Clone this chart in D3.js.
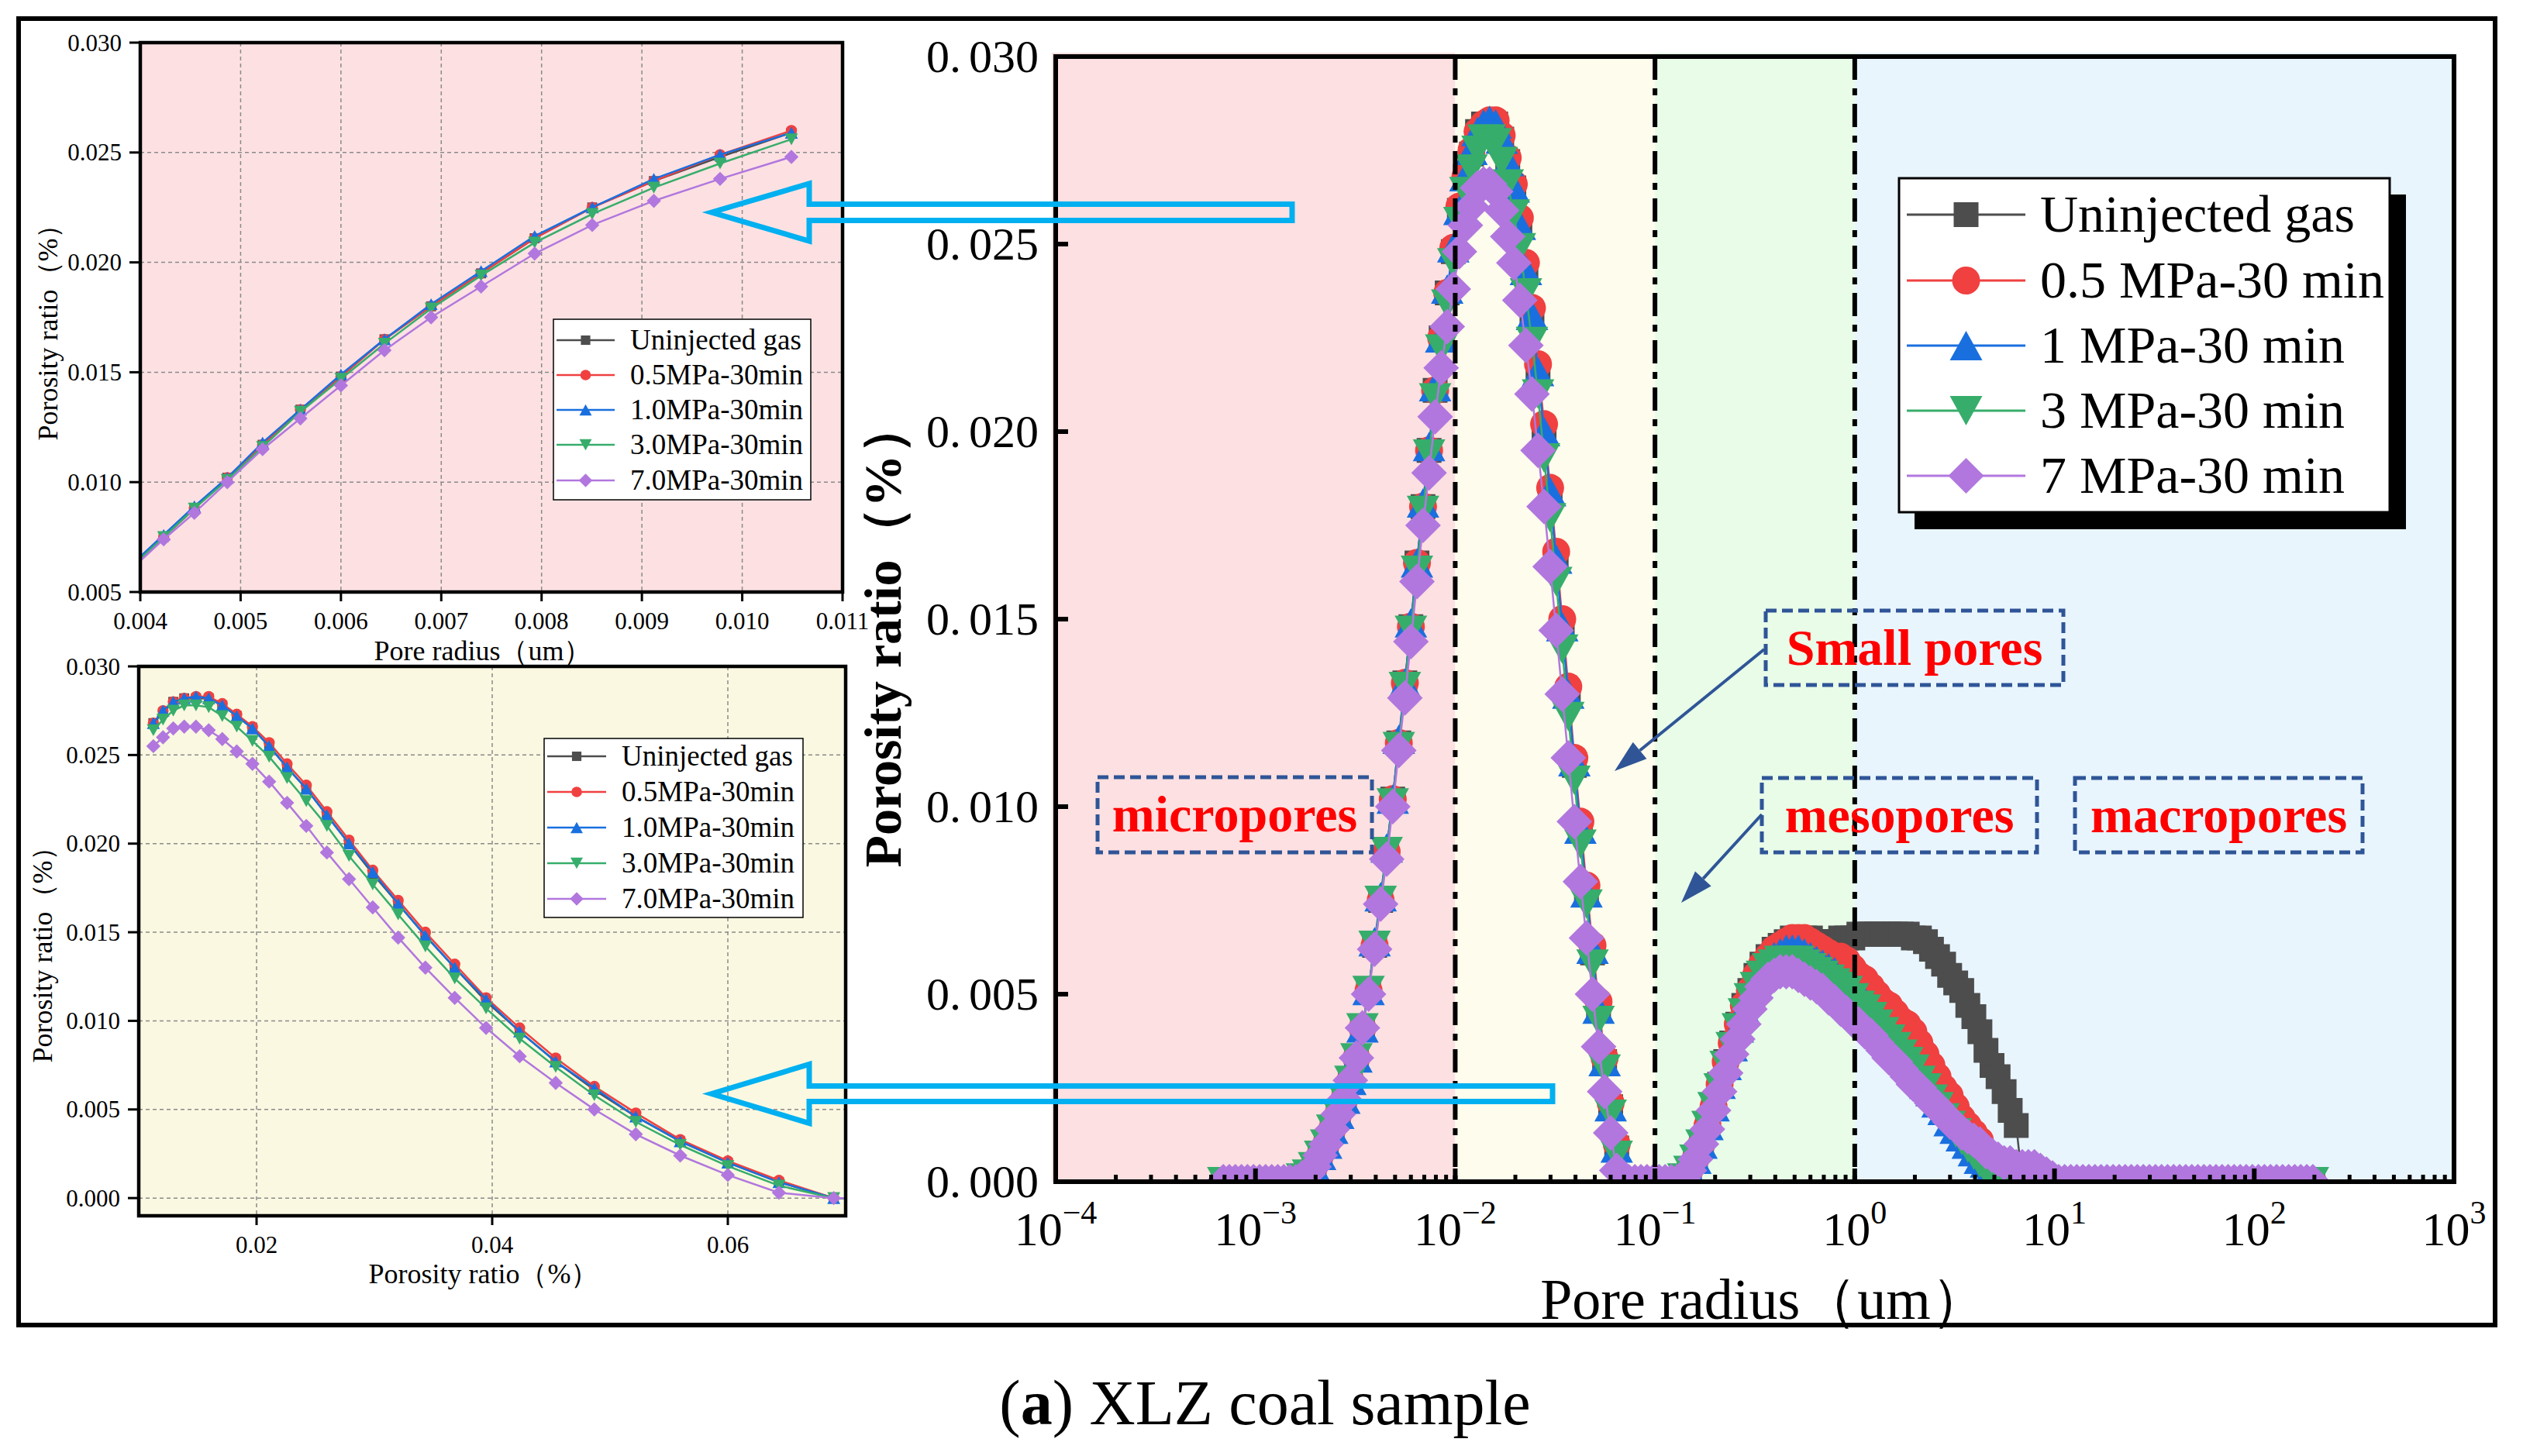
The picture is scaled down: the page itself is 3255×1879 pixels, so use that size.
<!DOCTYPE html>
<html>
<head>
<meta charset="utf-8">
<script src="https://cdn.jsdelivr.net/npm/d3@7/dist/d3.min.js"></script>
<style>
  html, body { margin: 0; padding: 0; background: #fff; }
  svg { display: block; font-family: "Liberation Serif", "Times New Roman", serif; }
</style>
</head>
<body>
<svg id="chart" width="3255" height="1879"></svg>
<script>
// pore radius grid (um), log spaced
const radius = [
  6.899e-4, 7.397e-4, 7.931e-4, 8.505e-4, 9.119e-4, 9.779e-4,
  1.049e-3, 1.124e-3, 1.206e-3, 1.293e-3, 1.386e-3, 1.486e-3, 1.594e-3, 1.709e-3, 1.832e-3, 1.965e-3, 2.107e-3,
  2.259e-3, 2.422e-3, 2.597e-3, 2.785e-3, 2.986e-3, 3.202e-3, 3.433e-3, 3.682e-3, 3.948e-3, 4.233e-3, 4.539e-3,
  4.867e-3, 5.219e-3, 5.596e-3, 6.000e-3, 6.434e-3, 6.899e-3, 7.397e-3, 7.931e-3, 8.505e-3, 9.119e-3, 9.779e-3,
  1.049e-2, 1.124e-2, 1.206e-2, 1.293e-2, 1.386e-2, 1.486e-2, 1.594e-2, 1.709e-2, 1.832e-2, 1.965e-2, 2.107e-2,
  2.259e-2, 2.422e-2, 2.597e-2, 2.785e-2, 2.986e-2, 3.202e-2, 3.433e-2, 3.682e-2, 3.948e-2, 4.233e-2, 4.539e-2,
  4.867e-2, 5.219e-2, 5.596e-2, 6.000e-2, 6.434e-2, 6.899e-2, 7.397e-2, 7.931e-2, 8.505e-2, 9.119e-2, 9.779e-2,
  0.1049, 0.1124, 0.1206, 0.1293, 0.1386, 0.1486, 0.1594, 0.1709, 0.1832, 0.1965, 0.2107,
  0.2259, 0.2422, 0.2597, 0.2785, 0.2986, 0.3202, 0.3433, 0.3682, 0.3948, 0.4233, 0.4539,
  0.4867, 0.5219, 0.5596, 0.6000, 0.6434, 0.6899, 0.7397, 0.7931, 0.8505, 0.9119, 0.9779,
  1.049, 1.124, 1.206, 1.293, 1.386, 1.486, 1.594, 1.709, 1.832, 1.965, 2.107,
  2.259, 2.422, 2.597, 2.785, 2.986, 3.202, 3.433, 3.682, 3.948, 4.233, 4.539,
  4.867, 5.219, 5.596, 6.000, 6.434, 6.899, 7.397, 7.931, 8.505, 9.119, 9.779,
  10.49, 11.24, 12.06, 12.93, 13.86, 14.86, 15.94, 17.09, 18.32, 19.65, 21.07,
  22.59, 24.22, 25.97, 27.85, 29.86, 32.02, 34.33, 36.82, 39.48, 42.33, 45.39,
  48.67, 52.19, 55.96, 60.00, 64.34, 68.99, 73.97, 79.31, 85.05, 91.19, 97.79,
  104.9, 112.4, 120.6, 129.3, 138.6, 148.6, 159.4, 170.9, 183.2, 196.5
];

// porosity ratio (%), in units of 1e-4
const uninjected = [
  0,0,0,0,0,0,0,0,0,0,0,0,
  0,1,2,4,7,10,14,18,22,27,33,41,51,
  63,75,88,102,117,133,148,165,180,195,211,225,237,248,259,
  268,274,280,282,282,282,278,272,265,255,243,231,216,200,183,166,148,130,111,94,77,61,46,32,20,9,0,
  0,0,0,0,0,0,0,0,0,
  1,3,6,10,15,20,26,32,37,42,47,51,55,58,60,62,
  63,64,65,65,65,65,64,64,64,64,65,65,65,66,66,66,66,66,66,66,
  66,66,65,65,64,62,60,58,55,53,51,47,44,40,35,31,28,24,19,15,
  0,0,0,0,0,0,0,0,0,0, 0,0,0,0,0,0,0,0,0,0, 0,0,0,0,0,0,0,0,0,0, 0,0,0,0,0,0,0,0,0,0,
  0,0,0,0,0,0,0,0,0
];
const mpa05 = [
  0,0,0,0,0,0,0,0,0,0,0,0,
  0,1,2,4,7,10,14,18,22,27,33,41,51,
  63,75,88,102,117,133,148,165,180,195,211,225,237,249,260,
  268,275,280,282,283,283,279,273,266,257,245,233,218,202,185,168,150,132,113,96,79,63,48,33,21,10,0,
  0,0,0,0,0,0,0,0,0,
  1,3,6,10,15,20,26,32,37,42,47,51,55,58,60,62,
  63,64,65,65,65,64,63,62,61,60,60,59,57,55,54,52,50,48,47,45,
  43,42,40,37,34,31,28,25,23,20,17,15,13,11,8,6,4,2,1,
  0,0,0,0,0,0,0,0,0,0, 0,0,0,0,0,0,0,0,0,0, 0,0,0,0,0,0,0,0,0,0, 0,0,0,0,0,0,0,0,0,0,
  0,0,0,0,0,0,0,0,0,0
];
const mpa1 = [
  0,0,0,0,0,0,0,0,0,0,0,0,
  0,1,2,4,7,10,14,18,22,27,33,41,51,
  64,76,89,102,118,133,149,165,181,196,212,225,238,249,259,
  268,275,280,282,283,282,278,272,265,255,243,231,216,200,184,166,148,130,112,94,77,62,46,32,20,9,0,
  0,0,0,0,0,0,0,0,0,
  1,3,6,10,15,20,26,31,36,41,46,50,54,57,59,60,
  61,62,62,62,61,60,59,58,57,56,54,53,51,49,48,46,44,42,40,38,
  36,34,31,29,26,24,21,19,16,14,12,10,8,6,5,4,4,3,3,2,2,1,1,
  0,0,0,0,0,0,0,0,0,0, 0,0,0,0,0,0,0,0,0,0, 0,0,0,0,0,0,0,0,0,0, 0,0,0,0,0,0,0,0,0,0,
  0,0,0,0,0,0
];
const mpa3 = [
  0,0,0,0,0,0,0,0,0,0,0,0,
  0,1,2,4,7,10,14,18,22,27,33,41,51,
  63,75,88,101,116,132,147,163,179,194,209,222,234,245,256,
  264,270,275,278,278,277,272,266,258,249,237,224,210,193,177,160,142,124,107,90,74,58,43,30,18,7,0,
  0,0,0,0,0,0,0,0,0,
  1,3,6,10,15,20,25,31,36,41,45,49,52,55,57,58,
  59,59,59,59,58,57,56,55,54,53,52,51,49,47,46,44,42,40,38,36,
  34,32,30,27,25,22,20,17,15,13,11,9,7,5,3,2,1,
  0,0,0,0,0,0,0,0,0,0, 0,0,0,0,0,0,0,0,0,0, 0,0,0,0,0,0,0,0,0,0, 0,0,0,0,0,0,0,0,0,0,
  0,0,0,0,0,0,0,0,0,0, 0,0
];
const mpa7 = [
  0,0,0,0,0,0,0,0,0,0,0,0,
  0,1,2,4,7,10,14,18,22,27,33,41,50,
  62,74,86,100,115,129,144,160,175,189,204,217,228,238,248,
  255,260,265,266,266,264,259,252,245,235,223,210,195,180,164,147,130,113,96,80,65,50,36,24,13,3,0,
  0,0,0,0,0,0,0,0,0,
  1,3,6,10,14,19,24,29,34,38,42,46,49,52,54,55,
  56,56,56,55,54,53,52,51,49,48,46,45,43,42,40,39,37,35,33,32,
  30,28,26,25,23,21,20,18,16,15,13,12,11,10,8,7,6,5,5,4,4,4,4,3,2,1,0,
  0,0,0,0,0,0,0,0,0,0, 0,0,0,0,0,0,0,0,0,0, 0,0,0,0,0,0,0,0,0,0, 0,0,0,0,0,0,0,0,0,0,
  0,0
];

const legendMain = ["Uninjected gas", "0.5 MPa-30 min", "1 MPa-30 min", "3 MPa-30 min", "7 MPa-30 min"];
const legendInset = ["Uninjected gas", "0.5MPa-30min", "1.0MPa-30min", "3.0MPa-30min", "7.0MPa-30min"];

const mainYTicks = [0, 0.005, 0.010, 0.015, 0.020, 0.025, 0.030];
const mainDecades = [-4, -3, -2, -1, 0, 1, 2, 3];
const poreBounds = [1e-4, 0.01, 0.1, 1, 1e3];
const poreNames = ["micropores", "Small pores", "mesopores", "macropores"];

// which grid points each zoomed inset plots (first and last index)
const inset1Range = [25, 39];
const inset2Range = [40, 67];
const inset1XTicks = [0.004, 0.005, 0.006, 0.007, 0.008, 0.009, 0.010, 0.011];
const inset1YTicks = [0.005, 0.010, 0.015, 0.020, 0.025, 0.030];
const inset2XTicks = [0.02, 0.04, 0.06];
const inset2YTicks = [0, 0.005, 0.010, 0.015, 0.020, 0.025, 0.030];

const series = [
  { values: uninjected, color: "#4d4d4d", shape: "square" },
  { values: mpa05, color: "#f04040", shape: "circle" },
  { values: mpa1, color: "#1a6fdf", shape: "up" },
  { values: mpa3, color: "#37ad6b", shape: "down" },
  { values: mpa7, color: "#b177de", shape: "diamond" }
];

const svg = d3.select("#chart");
const defs = svg.append("defs");

function markerPath(shape, k) {
  if (shape === "square") { const s = 16 * k; return `M${-s},${-s}H${s}V${s}H${-s}Z`; }
  if (shape === "circle") { const r = 18 * k; return `M${-r},0A${r},${r} 0 1,0 ${r},0A${r},${r} 0 1,0 ${-r},0Z`; }
  const w = 21 * k, h = 19 * k;
  if (shape === "up") return `M0,${-h}L${w},${h}L${-w},${h}Z`;
  if (shape === "down") return `M0,${h}L${w},${-h}L${-w},${-h}Z`;
  const s = 23 * k;
  return `M0,${-s}L${s},0L0,${s}L${-s},0Z`;
}

function drawSeries(g, xs, ys, k, lw, range) {
  const [i0, i1] = range || [0, radius.length - 1];
  series.forEach(s => {
    const pts = radius.map((r, i) => [r, s.values[i] * 1e-4]).slice(i0, i1 + 1);
    g.append("path")
      .attr("d", d3.line().x(d => xs(d[0])).y(d => ys(d[1]))(pts))
      .attr("fill", "none").attr("stroke", s.color).attr("stroke-width", lw);
    g.append("g").selectAll("path").data(pts).join("path")
      .attr("transform", d => `translate(${xs(d[0])},${ys(d[1])})`)
      .attr("d", markerPath(s.shape, k))
      .attr("fill", s.color);
  });
}

function drawLegend(g, box, rows, labels, k, fs, lw) {
  g.append("rect").attr("x", box.x).attr("y", box.y).attr("width", box.w).attr("height", box.h)
    .attr("fill", "#fff").attr("stroke", "#000").attr("stroke-width", box.sw);
  rows.forEach((ry, i) => {
    const s = series[i];
    g.append("line").attr("x1", box.lx0).attr("x2", box.lx1).attr("y1", ry).attr("y2", ry)
      .attr("stroke", s.color).attr("stroke-width", lw);
    g.append("path").attr("transform", `translate(${(box.lx0 + box.lx1) / 2},${ry})`)
      .attr("d", markerPath(s.shape, k)).attr("fill", s.color);
    g.append("text").attr("x", box.tx).attr("y", ry).attr("dy", "0.33em")
      .attr("font-size", fs).attr("fill", "#000").text(labels[i]);
  });
}

// ---------- main chart ----------
const M = { left: 1362, right: 3166, top: 73, bottom: 1525 };
const x = d3.scaleLog().domain([1e-4, 1e3]).range([M.left, M.right]);
const y = d3.scaleLinear().domain([0, 0.03]).range([M.bottom, M.top]);
const poreFill = ["#fde0e1", "#fefcec", "#e8fce8", "#e8f5fd"];

defs.append("clipPath").attr("id", "clipMain").append("rect")
  .attr("x", M.left).attr("y", M.top).attr("width", M.right - M.left).attr("height", M.bottom - M.top);

const mg = svg.append("g");
mg.selectAll("rect.zone").data(poreBounds.slice(0, -1)).join("rect").attr("class", "zone")
  .attr("x", d => x(d) - (d === 1e-4 ? 5 : 0))
  .attr("y", M.top - 5)
  .attr("width", (d, i) => x(poreBounds[i + 1]) - x(d) + (d === 1e-4 ? 5 : 0))
  .attr("height", M.bottom - M.top + 5)
  .attr("fill", (d, i) => poreFill[i]);

drawSeries(mg.append("g").attr("clip-path", "url(#clipMain)"), x, y, 1, 2.5);

mg.selectAll("line.bound").data(poreBounds.slice(1, -1)).join("line").attr("class", "bound")
  .attr("x1", d => x(d)).attr("x2", d => x(d)).attr("y1", M.top).attr("y2", M.bottom)
  .attr("stroke", "#000").attr("stroke-width", 6).attr("stroke-dasharray", "30,11,9,11");

mg.append("rect").attr("x", M.left).attr("y", M.top).attr("width", M.right - M.left).attr("height", M.bottom - M.top)
  .attr("fill", "none").attr("stroke", "#000").attr("stroke-width", 6);

// y ticks (inward)
mainYTicks.forEach(v => {
  mg.append("line").attr("x1", M.left).attr("x2", M.left + 16).attr("y1", y(v)).attr("y2", y(v))
    .attr("stroke", "#000").attr("stroke-width", 6);
  const s = d3.format(".3f")(v);
  const t = mg.append("text").attr("x", 1340).attr("y", y(v)).attr("dy", "0.34em")
    .attr("text-anchor", "end").attr("font-size", 60);
  t.append("tspan").text(s.slice(0, 2));
  t.append("tspan").attr("dx", 10).text(s.slice(2));
});

// x ticks: decades and minor
mainDecades.forEach(d => {
  const px = x(Math.pow(10, d));
  mg.append("line").attr("x1", px).attr("x2", px).attr("y1", M.bottom).attr("y2", M.bottom - 17)
    .attr("stroke", "#000").attr("stroke-width", 6);
  const t = mg.append("text").attr("x", px).attr("y", 1607).attr("text-anchor", "middle").attr("font-size", 62);
  t.append("tspan").text("10");
  t.append("tspan").attr("dy", -28).attr("font-size", 42).text(d < 0 ? "\u2212" + (-d) : String(d));
  if (d < 3) {
    for (let m = 2; m <= 9; m++) {
      const mx = x(m * Math.pow(10, d));
      mg.append("line").attr("x1", mx).attr("x2", mx).attr("y1", M.bottom).attr("y2", M.bottom - 9)
        .attr("stroke", "#000").attr("stroke-width", 5);
    }
  }
});

mg.append("text").attr("transform", "translate(1162,819) rotate(-90)")
  .attr("text-anchor", "middle").attr("font-size", 68).attr("font-weight", "bold")
  .text("Porosity ratio（%）");
mg.append("text").attr("x", 2276).attr("y", 1702).attr("text-anchor", "middle").attr("font-size", 74)
  .text("Pore radius（um）");

// legend with shadow
mg.append("rect").attr("x", 2470).attr("y", 251).attr("width", 634).attr("height", 432).attr("fill", "#000");
drawLegend(mg, { x: 2450, y: 230, w: 633, h: 431, sw: 3, lx0: 2460, lx1: 2613, tx: 2632 },
  [277, 362, 446, 530, 614], legendMain, 1, 68, 3);

// pore class boxes
const boxes = [
  { x0: 1416, y0: 1003, x1: 1770, y1: 1100 },
  { x0: 2278, y0: 788, x1: 2662, y1: 884 },
  { x0: 2273, y0: 1004, x1: 2628, y1: 1100 },
  { x0: 2677, y0: 1004, x1: 3048, y1: 1100 }
];
boxes.forEach((b, i) => {
  mg.append("rect").attr("x", b.x0).attr("y", b.y0).attr("width", b.x1 - b.x0).attr("height", b.y1 - b.y0)
    .attr("fill", "none").attr("stroke", "#2f5597").attr("stroke-width", 5).attr("stroke-dasharray", "14,7");
  mg.append("text").attr("x", (b.x0 + b.x1) / 2).attr("y", (b.y0 + b.y1) / 2).attr("dy", "0.33em")
    .attr("text-anchor", "middle").attr("font-size", 66).attr("font-weight", "bold").attr("fill", "#ff0000")
    .text(poreNames[i]);
});

// pointer arrows
[[2276, 838, 2083, 995], [2273, 1051, 2169, 1165]].forEach(([x1, y1, x2, y2]) => {
  const a = Math.atan2(y2 - y1, x2 - x1), L = 42, hw = 14;
  const bx = x2 - L * Math.cos(a), by = y2 - L * Math.sin(a);
  mg.append("line").attr("x1", x1).attr("y1", y1).attr("x2", bx).attr("y2", by)
    .attr("stroke", "#2f5597").attr("stroke-width", 4);
  mg.append("path").attr("fill", "#2f5597")
    .attr("d", `M${x2},${y2}L${bx - hw * Math.sin(a)},${by + hw * Math.cos(a)}L${bx + hw * Math.sin(a)},${by - hw * Math.cos(a)}Z`);
});

// ---------- insets ----------
function drawInset(c) {
  const g = svg.append("g");
  const xs = d3.scaleLinear().domain(c.xDomain).range([c.left, c.right]);
  const ys = d3.scaleLinear().domain(c.yDomain).range([c.bottom, c.top]);
  defs.append("clipPath").attr("id", c.id).append("rect")
    .attr("x", c.left).attr("y", c.top).attr("width", c.right - c.left).attr("height", c.bottom - c.top);
  g.append("rect").attr("x", c.left).attr("y", c.top).attr("width", c.right - c.left).attr("height", c.bottom - c.top)
    .attr("fill", c.bg);
  c.xTicks.forEach(v => {
    g.append("line").attr("x1", xs(v)).attr("x2", xs(v)).attr("y1", c.top).attr("y2", c.bottom)
      .attr("stroke", "#8a8a8a").attr("stroke-width", 1.5).attr("stroke-dasharray", "5,4");
  });
  c.yTicks.forEach(v => {
    g.append("line").attr("x1", c.left).attr("x2", c.right).attr("y1", ys(v)).attr("y2", ys(v))
      .attr("stroke", "#8a8a8a").attr("stroke-width", 1.5).attr("stroke-dasharray", "5,4");
  });
  drawSeries(g.append("g").attr("clip-path", `url(#${c.id})`), xs, ys, 0.4, 2.5, c.range);
  g.append("rect").attr("x", c.left).attr("y", c.top).attr("width", c.right - c.left).attr("height", c.bottom - c.top)
    .attr("fill", "none").attr("stroke", "#000").attr("stroke-width", 4.5);
  c.yTicks.forEach(v => {
    g.append("line").attr("x1", c.left - 14).attr("x2", c.left).attr("y1", ys(v)).attr("y2", ys(v))
      .attr("stroke", "#000").attr("stroke-width", 3);
    g.append("text").attr("x", c.left - 24).attr("y", ys(v)).attr("dy", "0.34em").attr("text-anchor", "end")
      .attr("font-size", 31).text(d3.format(".3f")(v));
  });
  c.xTicks.forEach(v => {
    g.append("line").attr("x1", xs(v)).attr("x2", xs(v)).attr("y1", c.bottom).attr("y2", c.bottom + 12)
      .attr("stroke", "#000").attr("stroke-width", 3);
    g.append("text").attr("x", xs(v)).attr("y", c.bottom + 48).attr("text-anchor", "middle")
      .attr("font-size", 31).text(d3.format(c.xFmt)(v));
  });
  g.append("text").attr("x", c.xLabelX).attr("y", c.xLabelY).attr("text-anchor", "middle")
    .attr("font-size", 36).text(c.xLabel);
  g.append("text").attr("transform", `translate(${c.yLabelX},${c.yLabelY}) rotate(-90)`)
    .attr("dy", "0.32em").attr("text-anchor", "middle").attr("font-size", 36).text("Porosity ratio（%）");
  drawLegend(g, c.legend, c.rows, legendInset, 0.38, 37, 2.5);
}

drawInset({
  id: "clipIn1", left: 181, right: 1087, top: 55, bottom: 764, range: inset1Range,
  xDomain: [0.004, 0.011], yDomain: [0.005, 0.03], xTicks: inset1XTicks, yTicks: inset1YTicks,
  xFmt: ".3f", bg: "#fde1e2",
  xLabel: "Pore radius（um）", xLabelX: 623, xLabelY: 852, yLabelX: 62, yLabelY: 420,
  legend: { x: 714, y: 412, w: 332, h: 233, sw: 1.5, lx0: 718, lx1: 793, tx: 813 },
  rows: [439, 484, 529, 574, 620]
});
drawInset({
  id: "clipIn2", left: 179, right: 1091, top: 860, bottom: 1569, range: inset2Range,
  xDomain: [0.01, 0.07], yDomain: [-0.001, 0.03], xTicks: inset2XTicks, yTicks: inset2YTicks,
  xFmt: ".2f", bg: "#faf8e1",
  xLabel: "Porosity ratio（%）", xLabelX: 624, xLabelY: 1656, yLabelX: 55, yLabelY: 1223,
  legend: { x: 702, y: 953, w: 334, h: 231, sw: 1.5, lx0: 706, lx1: 782, tx: 802 },
  rows: [976, 1022, 1068, 1114, 1160]
});

// cyan callout arrows (outline only)
[{ tip: 918, cy: 274, head: 1044, end: 1667, hh: 37, sh: 10.5 },
 { tip: 918, cy: 1411.5, head: 1044, end: 2003, hh: 38, sh: 10 }].forEach(a => {
  const pts = [[a.tip, a.cy], [a.head, a.cy - a.hh], [a.head, a.cy - a.sh], [a.end, a.cy - a.sh],
    [a.end, a.cy + a.sh], [a.head, a.cy + a.sh], [a.head, a.cy + a.hh]];
  svg.append("path").attr("d", d3.line()(pts) + "Z")
    .attr("fill", "none").attr("stroke", "#00b0f0").attr("stroke-width", 7).attr("stroke-linejoin", "miter");
});

// outer frame and caption
svg.append("rect").attr("x", 24).attr("y", 24).attr("width", 3195).attr("height", 1686)
  .attr("fill", "none").attr("stroke", "#000").attr("stroke-width", 6);
const cap = svg.append("text").attr("x", 1632).attr("y", 1838).attr("text-anchor", "middle").attr("font-size", 82);
cap.append("tspan").text("(");
cap.append("tspan").attr("font-weight", "bold").text("a");
cap.append("tspan").text(") XLZ coal sample");
</script>
</body>
</html>
